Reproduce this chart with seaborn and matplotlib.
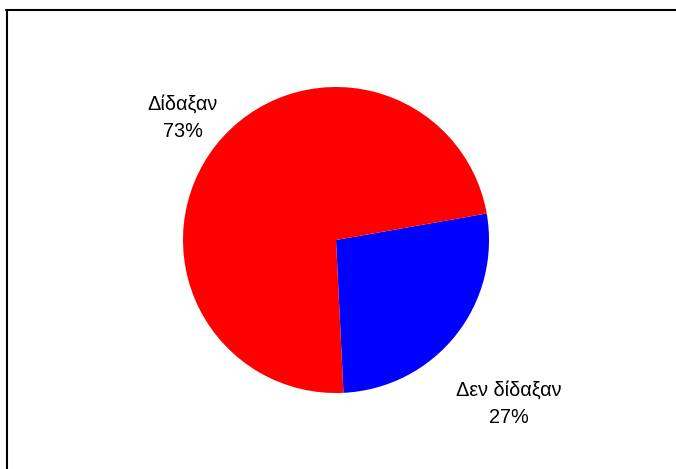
import matplotlib
matplotlib.use("Agg")
import matplotlib.pyplot as plt
import seaborn as sns
from matplotlib.lines import Line2D

categories = ["Δεν δίδαξαν", "Δίδαξαν"]
values = [27, 73]
colors = ["#0000FF", "#FF0000"]

sns.set_theme(style="white")
plt.rcParams['font.family'] = ['Liberation Sans', 'DejaVu Sans']

fig = plt.figure(figsize=(6.76, 4.69), dpi=100)
ax = fig.add_axes([0.2707, 0.162, 0.4527, 0.6525])
wedges, _ = ax.pie(values, colors=colors, startangle=10, counterclock=False,
                   wedgeprops=dict(linewidth=0))
ax.set_xlim(-1, 1)
ax.set_ylim(-1, 1)
ax.set_aspect('equal')
ax.axis('off')

label_pos = {"Δίδαξαν": (-1.0, 0.80), "Δεν δίδαξαν": (1.13, -1.07)}
for cat, v in zip(categories, values):
    x, y = label_pos[cat]
    ax.text(x, y, f"{cat}\n{v}%", ha='center', va='center', fontsize=14.3,
            color='black', linespacing=1.55, clip_on=False)

fig.add_artist(Line2D([6/676, 1], [1 - 10.5/469, 1 - 10.5/469], transform=fig.transFigure,
                      color='black', linewidth=1.5))
fig.add_artist(Line2D([6.5/676, 6.5/676], [0, 1 - 10.5/469], transform=fig.transFigure,
                      color='black', linewidth=1.5))

fig.savefig("out.png", dpi=100)
